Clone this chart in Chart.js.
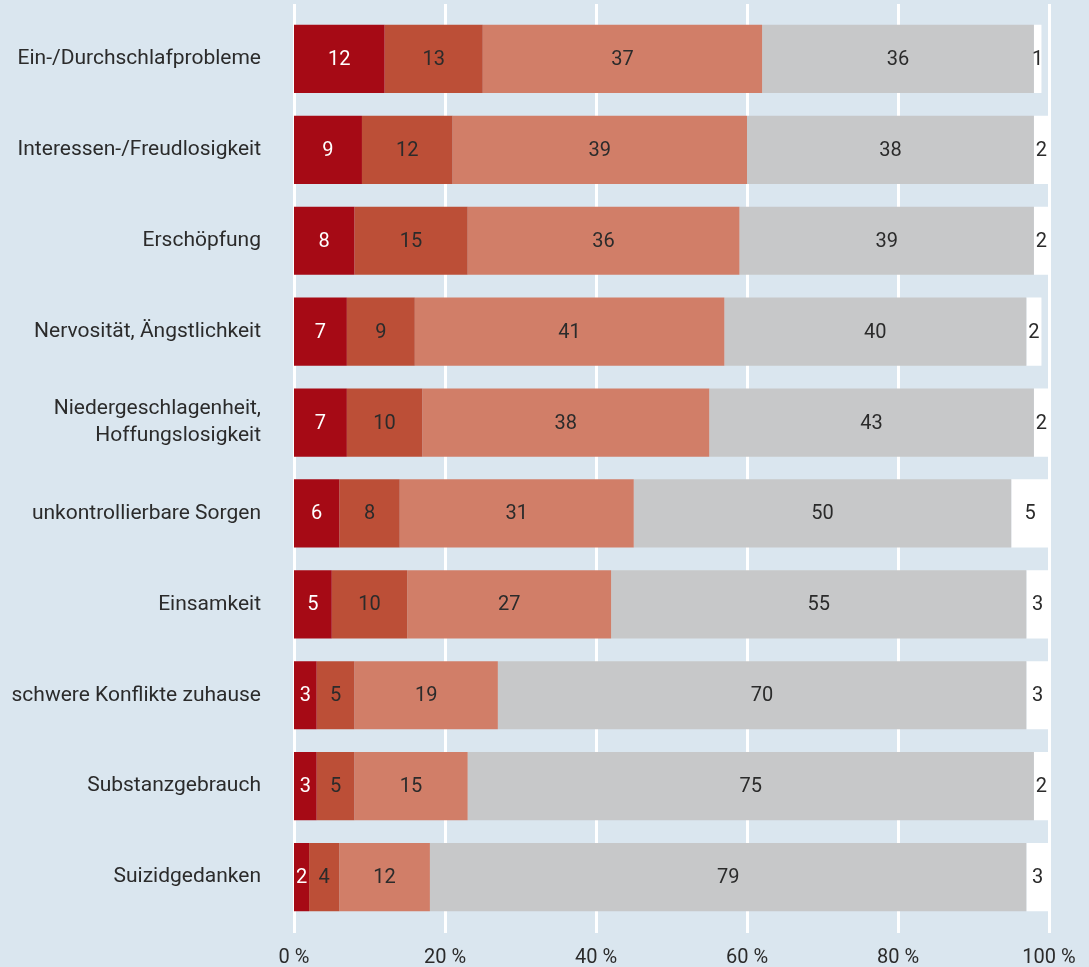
<!DOCTYPE html>
<html>
<head>
<meta charset="utf-8">
<script src="https://cdn.jsdelivr.net/npm/chart.js@4"></script>
<style>
  html, body { margin: 0; padding: 0; background: #dae6ef; }
  #wrap { width: 1089px; height: 967px; }
</style>
</head>
<body>
<div id="wrap"><canvas id="belastung" width="1089" height="967"></canvas></div>
<script>
const kategorien = [
    'Ein-/Durchschlafprobleme',
    'Interessen-/Freudlosigkeit',
    'Erschöpfung',
    'Nervosität, Ängstlichkeit',
    ['Niedergeschlagenheit,', 'Hoffungslosigkeit'],
    'unkontrollierbare Sorgen',
    'Einsamkeit',
    'schwere Konflikte zuhause',
    'Substanzgebrauch',
    'Suizidgedanken'
];
const stufe1 = [12, 9, 8, 7, 7, 6, 5, 3, 3, 2];
const stufe2 = [13, 12, 15, 9, 10, 8, 10, 5, 5, 4];
const stufe3 = [37, 39, 36, 41, 38, 31, 27, 19, 15, 12];
const stufe4 = [36, 38, 39, 40, 43, 50, 55, 70, 75, 79];
const stufe5 = [1, 2, 2, 2, 2, 5, 3, 3, 2, 3];
const xTicks = [0, 20, 40, 60, 80, 100];

const farben = ['#a60a15', '#bc4f37', '#d17e68', '#c7c8c9', '#ffffff'];
const textFarben = ['#ffffff', '#2b2b2b', '#2b2b2b', '#2b2b2b', '#2b2b2b'];
const schrift = "'Roboto', 'DejaVu Sans', sans-serif";

// Hintergrund und verlaengerte Gitterlinien
const hintergrund = {
    id: 'hintergrund',
    beforeDraw(chart) {
        const c = chart.ctx;
        c.save();
        c.fillStyle = '#dae6ef';
        c.fillRect(0, 0, chart.width, chart.height);
        const x = chart.scales.x;
        c.strokeStyle = '#ffffff';
        c.lineWidth = 3;
        xTicks.forEach(function (t) {
            const px = Math.round(x.getPixelForValue(t)) + 0.5;
            c.beginPath();
            c.moveTo(px, 4);
            c.lineTo(px, 933);
            c.stroke();
        });
        c.restore();
    }
};

// Zahlen in die Balken schreiben
const werte = {
    id: 'werte',
    afterDatasetsDraw(chart) {
        const c = chart.ctx;
        c.save();
        c.font = '20px ' + schrift;
        c.textAlign = 'center';
        c.textBaseline = 'middle';
        chart.data.datasets.forEach(function (ds, i) {
            const meta = chart.getDatasetMeta(i);
            meta.data.forEach(function (bar, j) {
                const links = Math.min(bar.x, bar.base);
                const rechts = Math.max(bar.x, bar.base);
                c.fillStyle = textFarben[i];
                c.fillText(String(ds.data[j]), (links + rechts) / 2, bar.y + 1);
            });
        });
        c.restore();
    }
};

function datensatz(label, daten, i) {
    return {
        label: label,
        data: daten,
        backgroundColor: farben[i],
        borderWidth: 0,
        categoryPercentage: 1,
        barPercentage: 0.75
    };
}

new Chart(document.getElementById('belastung'), {
    type: 'bar',
    data: {
        labels: kategorien,
        datasets: [
            datensatz('sehr stark', stufe1, 0),
            datensatz('stark', stufe2, 1),
            datensatz('etwas', stufe3, 2),
            datensatz('gar nicht', stufe4, 3),
            datensatz('keine Angabe', stufe5, 4)
        ]
    },
    options: {
        indexAxis: 'y',
        responsive: false,
        animation: false,
        layout: { padding: { top: 13.5, right: 40, left: 0, bottom: 0 } },
        plugins: {
            legend: { display: false },
            tooltip: { enabled: false }
        },
        scales: {
            x: {
                stacked: true,
                min: 0,
                max: 100,
                afterBuildTicks(scale) {
                    scale.ticks = xTicks.map(function (v) { return { value: v }; });
                },
                afterFit(scale) {
                    scale.height = 44.5;
                    scale.paddingLeft = 0;
                    scale.paddingRight = 0;
                },
                grid: { display: false },
                border: { display: false },
                ticks: {
                    padding: 15,
                    color: '#2b2b2b',
                    font: { family: schrift, size: 20 },
                    callback: function (v) { return v + ' %'; }
                }
            },
            y: {
                stacked: true,
                afterFit(scale) {
                    scale.width = 294;
                    scale.paddingTop = 0;
                    scale.paddingBottom = 0;
                },
                grid: { display: false },
                border: { display: false },
                ticks: {
                    padding: 25,
                    color: '#2b2b2b',
                    font: { family: schrift, size: 21, lineHeight: 1.3 }
                }
            }
        }
    },
    plugins: [hintergrund, werte]
});
</script>
</body>
</html>
